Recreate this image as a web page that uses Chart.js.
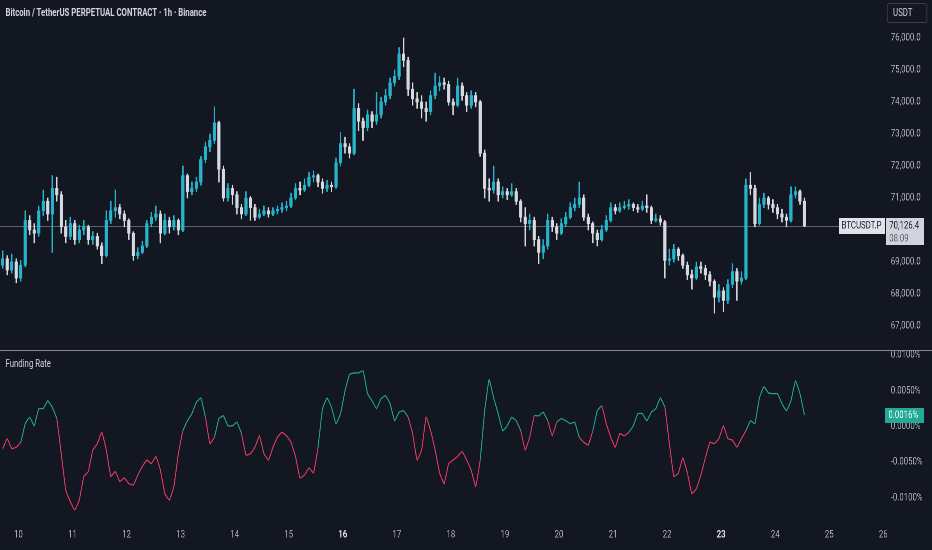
<!DOCTYPE html>
<html>
<head>
<meta charset="utf-8">
<script src="https://cdn.jsdelivr.net/npm/chart.js@4.4.1/dist/chart.umd.min.js"></script>
<style>
  html, body { margin: 0; padding: 0; background: #131722; overflow: hidden; }
  #wrap { position: absolute; left: 0; top: 0; width: 1195px; height: 550px;
          transform: scaleX(0.78); transform-origin: 0 0;
          font-family: Roboto, "Liberation Sans", sans-serif; }
  #priceCanvas { position: absolute; left: 0; top: 0; }
  #fundCanvas { position: absolute; left: 0; top: 351px; }
  #sep { position: absolute; left: 0; top: 350px; width: 1195px; height: 1px; background: #868993; }
  #title { position: absolute; left: 7px; top: 7px; color: #d1d4dc; font-size: 10px; font-weight: bold; white-space: nowrap; }
  #unit { position: absolute; left: 1137px; top: 3px; width: 52px; height: 20px; box-sizing: border-box;
          border: 1px solid #434651; border-radius: 3px; color: #d1d4dc; font-size: 10px; line-height: 18px; padding-left: 7px; }
  #fundTitle { position: absolute; left: 7px; top: 358px; color: #d1d4dc; font-size: 10px; }
</style>
</head>
<body>
<div id="wrap">
  <canvas id="priceCanvas" width="1195" height="350"></canvas>
  <div id="sep"></div>
  <canvas id="fundCanvas" width="1195" height="199"></canvas>
  <div id="title">Bitcoin / TetherUS PERPETUAL CONTRACT · 1h · Binance</div>
  <div id="unit">USDT</div>
  <div id="fundTitle">Funding Rate</div>
</div>
<script>
// 2h candles, hours counted from Mar 10 00:00
const startHour = -7;
const stepHours = 2;
const firstOpen = 68900;
const closes = [
  69100, 68750, 69000, 68500, 68900, 70300, 70000, 69900, 70600, 70900, 70500, 71300, 71100, 70100, 69800, 70200,
  69700, 70000, 70100, 69700, 69800, 69500, 69200, 70300, 70600, 70700, 70500, 70300, 69900, 69200, 69300, 69500,
  70200, 70400, 70500, 69900, 70300, 70100, 70300, 70000, 71700, 71200, 71300, 71500, 72200, 72600, 72800, 73350,
  71900, 71000, 71300, 71100, 70700, 70500, 71000, 70700, 70400, 70500, 70600, 70500, 70600, 70650, 70700, 70750,
  71000, 71300, 71250, 71400, 71650, 71700, 71500, 71300, 71400, 71350, 72100, 72700, 72600, 72400, 73800, 73400,
  73200, 73600, 73400, 73600, 74000, 74200, 74600, 74800, 75500, 75300, 74400, 74100, 74000, 73800, 73700, 74200,
  74500, 74600, 74550, 74000, 73900, 74500, 74200, 73900, 74200, 74000, 72400, 71300, 71250, 71500, 71100, 71200,
  71100, 71200, 70900, 70400, 70200, 70300, 69700, 69300, 69500, 70300, 70100, 69900, 70200, 70400, 70700, 70800,
  71000, 70400, 70200, 69900, 69700, 70000, 70300, 70700, 70600, 70700, 70750, 70800, 70700, 70650, 70750, 70700,
  70300, 70350, 70250, 69050, 69100, 69400, 69200, 68900, 68600, 68500, 68850, 68800, 68600, 68400, 67900, 68100,
  67800, 68300, 68700, 68400, 68500, 71400, 71300, 70200, 70800, 71000, 70800, 70700, 70500, 70400, 70300, 71100,
  71200, 70900, 70126.4
];
const highs = [
  69350, 69200, 69250, 69100, 69050, 70600, 70450, 70200, 70750, 71250, 71000, 71700, 71650, 71200, 70300, 70400,
  70300, 70150, 70300, 70150, 69950, 69900, 69600, 70600, 70900, 71250, 70800, 70600, 70350, 69950, 69450, 69650,
  70300, 70550, 70750, 70600, 70500, 70400, 70450, 70350, 72000, 71750, 71500, 71650, 72300, 72750, 73000, 73850,
  73400, 72000, 71450, 71400, 71200, 70800, 71200, 71050, 70800, 70650, 70750, 70700, 70700, 70750, 70850, 70900,
  71150, 71450, 71500, 71600, 71800, 71850, 71750, 71600, 71550, 71500, 72250, 73050, 72900, 72700, 74400, 73950,
  73500, 73750, 73700, 74300, 74150, 74400, 74750, 75000, 75700, 76000, 75400, 74600, 74300, 74200, 74000, 74350,
  74900, 74800, 74750, 74650, 74100, 74750, 74600, 74300, 74350, 74300, 74050, 72500, 71600, 72000, 71600, 71350,
  71300, 71450, 71300, 70950, 70700, 70500, 70400, 69800, 69700, 70500, 70400, 70200, 70350, 70550, 70850, 71000,
  71500, 71100, 70500, 70250, 70000, 70150, 70450, 70850, 70800, 70850, 70900, 70950, 70850, 70800, 70900, 71100,
  70750, 70500, 70450, 70300, 69400, 69550, 69450, 69250, 69000, 68750, 69000, 69000, 68900, 68700, 68450, 68300,
  68200, 68450, 68950, 68800, 68700, 71600, 71800, 71400, 71000, 71150, 71050, 70950, 70800, 70650, 70500, 71350,
  71350, 71250, 71000
];
const lows = [
  68800, 68600, 68650, 68350, 68400, 68850, 69850, 69600, 69800, 70450, 70300, 69300, 70900, 69900, 69600, 69700,
  69550, 69600, 69850, 69550, 69550, 69400, 68950, 69150, 70200, 70400, 70350, 70100, 69700, 69050, 69100, 69250,
  69450, 70100, 70300, 69600, 69850, 69900, 70000, 69850, 69950, 71000, 71100, 71200, 71400, 72100, 72450, 72700,
  71500, 70900, 70900, 70800, 70500, 70350, 70450, 70300, 70300, 70350, 70450, 70400, 70450, 70500, 70550, 70600,
  70700, 70950, 71100, 71200, 71350, 71500, 71350, 71150, 71200, 71200, 71300, 72000, 72400, 72250, 72350, 73100,
  72800, 73100, 73200, 73300, 73500, 73900, 74100, 74500, 74700, 75100, 74200, 73900, 73800, 73500, 73400, 73600,
  74100, 74350, 74400, 73900, 73600, 73850, 74050, 73700, 73800, 73850, 72300, 71000, 70900, 71150, 70900, 71000,
  70950, 71050, 70800, 70250, 69500, 70000, 69500, 68950, 69100, 69400, 69950, 69700, 69850, 70100, 70350, 70600,
  70700, 70300, 70000, 69600, 69500, 69650, 69950, 70250, 70500, 70550, 70650, 70650, 70600, 70550, 70600, 70550,
  70200, 70250, 70150, 68500, 68900, 69000, 69050, 68800, 68450, 68150, 68450, 68650, 68450, 68250, 67400, 67750,
  67450, 67700, 68200, 67800, 68300, 68450, 71100, 70100, 70150, 70700, 70650, 70550, 70350, 70250, 70100, 70250,
  71000, 70800, 70100
];
// funding rate in percent, same timestamps as the candles
const funding = [
  -0.0031, -0.0017, -0.0031, -0.0029, -0.0022, 0.0004, 0.0013, 0.0001, 0.0025, 0.0025, 0.0036, 0.0027, 0.0011, -0.0038, -0.0089, -0.0105,
  -0.0117, -0.0103, -0.0070, -0.0063, -0.0033, -0.0024, -0.0008, -0.0033, -0.0070, -0.0063, -0.0077, -0.0072, -0.0080, -0.0082, -0.0068, -0.0056,
  -0.0047, -0.0052, -0.0042, -0.0061, -0.0094, -0.0103, -0.0084, -0.0038, -0.0006, 0.0008, 0.0018, 0.0034, 0.0040, 0.0013, -0.0024, -0.0015,
  0.0011, 0.0015, 0.0001, 0.0001, 0.0006, -0.0010, -0.0040, -0.0038, -0.0029, -0.0013, -0.0038, -0.0047, -0.0029, -0.0015, -0.0008, -0.0013,
  -0.0022, -0.0042, -0.0072, -0.0068, -0.0058, -0.0065, -0.0029, 0.0025, 0.0040, 0.0027, 0.0004, 0.0018, 0.0050, 0.0073, 0.0075, 0.0075,
  0.0078, 0.0046, 0.0036, 0.0025, 0.0039, 0.0043, 0.0032, 0.0008, 0.0020, 0.0022, 0.0013, -0.0010, -0.0047, -0.0033, 0.0013, -0.0006,
  -0.0033, -0.0065, -0.0080, -0.0052, -0.0047, -0.0042, -0.0035, -0.0047, -0.0061, -0.0084, -0.0047, 0.0022, 0.0066, 0.0040, 0.0018, -0.0006,
  0.0001, 0.0013, 0.0008, -0.0006, -0.0033, -0.0015, 0.0015, 0.0015, 0.0020, 0.0008, -0.0013, 0.0006, 0.0011, 0.0008, 0.0004, 0.0006,
  -0.0015, -0.0022, -0.0026, -0.0006, 0.0022, 0.0029, 0.0004, -0.0015, -0.0029, -0.0010, -0.0013, -0.0008, 0.0001, 0.0018, 0.0018, 0.0008,
  0.0020, 0.0025, 0.0040, 0.0027, -0.0024, -0.0070, -0.0065, -0.0044, -0.0065, -0.0094, -0.0087, -0.0068, -0.0044, -0.0022, -0.0024, -0.0017,
  0.0001, -0.0017, -0.0019, -0.0029, -0.0017, -0.0006, 0.0008, 0.0004, 0.0040, 0.0056, 0.0047, 0.0046, 0.0046, 0.0032, 0.0022, 0.0036,
  0.0064, 0.0046, 0.0016
];
// stretches (first/last segment index) where the indicator line turns green
const fundingRising = [[4, 11], [40, 44], [47, 52], [70, 89], [106, 114], [118, 120], [123, 127], [131, 132], [139, 146], [165, 177]];
const dayLabels = ['10', '11', '12', '13', '14', '15', '16', '17', '18', '19', '20', '21', '22', '23', '24', '25', '26'];
const boldDays = ['16', '23'];
const priceTicks = [67000, 68000, 69000, 70000, 71000, 72000, 73000, 74000, 75000, 76000];
const fundingTicks = [0.01, 0.005, 0, -0.005, -0.01];
const symbolName = 'BTCUSDT.P';
const countdown = '08:09';

const UP = '#27b4cb';
const DOWN = '#d6d9e0';
const GREEN = '#21a287';
const RED = '#dc3a61';
const FONT = 'Roboto, "Liberation Sans", sans-serif';
const X_MIN = -8.2, X_MAX = 384.2;
const AXIS_W = 62;

Chart.defaults.font.family = FONT;
Chart.defaults.font.size = 10;

const hours = closes.map((c, i) => startHour + i * stepHours);
const opens = closes.map((c, i) => i === 0 ? firstOpen : closes[i - 1]);
const candleColor = i => closes[i] >= opens[i] ? UP : DOWN;
const isRising = i => fundingRising.some(r => i >= r[0] && i <= r[1]);

// keep the plot area flush with the canvas edges
const noPad = s => { s.paddingTop = 0; s.paddingBottom = 0; s.paddingLeft = 0; s.paddingRight = 0; };

const lastPriceTag = {
    id: 'lastPriceTag',
    beforeDatasetsDraw(chart) {
        const { ctx, chartArea, scales } = chart;
        const py = Math.round(scales.y.getPixelForValue(closes[closes.length - 1])) + 0.5;
        ctx.save();
        ctx.strokeStyle = '#5d606b';
        ctx.lineWidth = 1;
        ctx.beginPath();
        ctx.moveTo(chartArea.left, py);
        ctx.lineTo(chartArea.right, py);
        ctx.stroke();
        ctx.restore();
    },
    afterDraw(chart) {
        const { ctx, chartArea, scales } = chart;
        const last = closes[closes.length - 1];
        const py = Math.round(scales.y.getPixelForValue(last));
        ctx.save();
        ctx.font = '10px ' + FONT;
        ctx.textBaseline = 'middle';
        ctx.textAlign = 'left';
        // symbol tag
        ctx.fillStyle = '#e1e3e8';
        ctx.fillRect(chartArea.right - 57, py - 8, 59, 16);
        ctx.fillStyle = '#131722';
        ctx.fillText(symbolName, chartArea.right - 54, py);
        // price + countdown tag
        ctx.fillStyle = '#d1d4dc';
        ctx.fillRect(chartArea.right + 3, py - 8, 49, 27);
        ctx.fillStyle = '#131722';
        ctx.fillText(last.toLocaleString('en-US', { minimumFractionDigits: 1 }), chartArea.right + 7, py);
        ctx.fillStyle = '#5d606b';
        ctx.fillText(countdown, chartArea.right + 7, py + 13);
        ctx.restore();
    }
};

new Chart(document.getElementById('priceCanvas'), {
    type: 'bar',
    data: {
        datasets: [
            {
                label: 'wick',
                data: hours.map((h, i) => ({ x: h, y: [lows[i], highs[i]] })),
                backgroundColor: ctx => candleColor(ctx.dataIndex),
                barThickness: 1.2,
                grouped: false
            },
            {
                label: 'body',
                data: hours.map((h, i) => ({ x: h, y: [opens[i], closes[i]] })),
                backgroundColor: ctx => candleColor(ctx.dataIndex),
                barThickness: 3.4,
                minBarLength: 1,
                grouped: false
            }
        ]
    },
    options: {
        responsive: false,
        animation: false,
        devicePixelRatio: 2,
        layout: { padding: 0 },
        plugins: { legend: { display: false }, tooltip: { enabled: false } },
        scales: {
            x: { type: 'linear', min: X_MIN, max: X_MAX, offset: false, display: false },
            y: {
                position: 'right',
                min: 66250,
                max: 77187.5,
                grid: { display: false, drawTicks: false },
                border: { display: false },
                afterBuildTicks: s => { s.ticks = priceTicks.map(v => ({ value: v })); },
                afterFit: s => { s.width = AXIS_W; noPad(s); },
                ticks: {
                    color: '#b2b5be',
                    padding: 9,
                    callback: v => v.toLocaleString('en-US', { minimumFractionDigits: 1, maximumFractionDigits: 1 })
                }
            }
        }
    },
    plugins: [lastPriceTag]
});

const fundingTag = {
    id: 'fundingTag',
    afterDraw(chart) {
        const { ctx, chartArea, scales } = chart;
        const last = funding[funding.length - 1];
        const py = Math.round(scales.y.getPixelForValue(last));
        ctx.save();
        ctx.fillStyle = '#22ab94';
        ctx.fillRect(chartArea.right + 2, py - 7, 50, 15);
        ctx.fillStyle = '#ffffff';
        ctx.font = '10px ' + FONT;
        ctx.textBaseline = 'middle';
        ctx.fillText(last.toFixed(4) + '%', chartArea.right + 6, py + 0.5);
        ctx.restore();
    }
};

new Chart(document.getElementById('fundCanvas'), {
    type: 'line',
    data: {
        datasets: [{
            label: 'Funding Rate',
            data: hours.map((h, i) => ({ x: h, y: funding[i] })),
            borderColor: RED,
            borderWidth: 1.3,
            pointRadius: 0,
            tension: 0.1,
            segment: {
                borderColor: ctx => isRising(ctx.p0DataIndex) ? GREEN : RED
            }
        }]
    },
    options: {
        responsive: false,
        animation: false,
        devicePixelRatio: 2,
        layout: { padding: 0 },
        plugins: { legend: { display: false }, tooltip: { enabled: false } },
        scales: {
            x: {
                type: 'linear',
                min: X_MIN,
                max: X_MAX,
                grid: { display: false, drawTicks: false },
                border: { display: false },
                afterBuildTicks: s => { s.ticks = dayLabels.map((d, i) => ({ value: i * 24 })); },
                afterFit: s => { s.height = 30; noPad(s); },
                ticks: {
                    autoSkip: false,
                    maxRotation: 0,
                    padding: 9,
                    color: ctx => boldDays.includes(dayLabels[ctx.index]) ? '#e0e3eb' : '#b2b5be',
                    font: ctx => ({ size: 10, weight: boldDays.includes(dayLabels[ctx.index]) ? 'bold' : 'normal' }),
                    callback: (v, i) => dayLabels[i]
                }
            },
            y: {
                position: 'right',
                min: -0.013095,
                max: 0.010574,
                grid: { display: false, drawTicks: false },
                border: { display: false },
                afterBuildTicks: s => { s.ticks = fundingTicks.map(v => ({ value: v })); },
                afterFit: s => { s.width = AXIS_W; noPad(s); },
                ticks: {
                    color: '#b2b5be',
                    padding: 9,
                    callback: v => v.toFixed(4) + '%'
                }
            }
        }
    },
    plugins: [fundingTag]
});
</script>
</body>
</html>
